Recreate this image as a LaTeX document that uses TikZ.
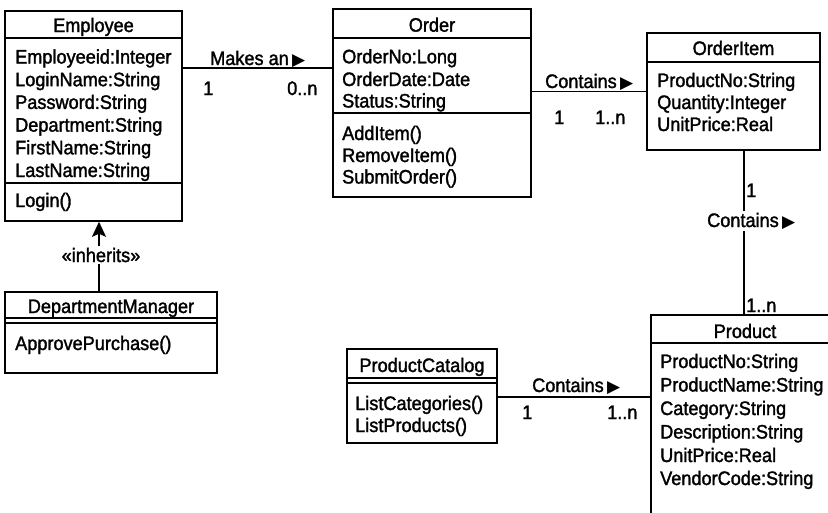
\documentclass[tikz,border=0pt]{standalone}
\usepackage{fontspec}
\setmainfont[FakeStretch=0.93,FakeBold=1.6]{Liberation Sans}
\newfontfamily\symfont{DejaVu Sans}
\usetikzlibrary{arrows.meta}
\newcommand{\tri}{\,{\symfont\fontsize{17}{17}\selectfont ▶}}
\tikzset{
  umlbox/.style={draw, line width=1.6pt, inner sep=0pt, rectangle},
  sepline/.style={line width=1.6pt},
  conn/.style={line width=1.6pt},
  txt/.style={anchor=base west, inner sep=0pt},
  ttl/.style={anchor=base, inner sep=0pt},
  lbl/.style={anchor=base west, inner sep=0pt},
  wlbl/.style={anchor=base, inner sep=1.5pt, fill=white},
}
\begin{document}
\begin{tikzpicture}[x=1pt,y=-1pt,font=\fontsize{19.5}{23}\selectfont]
\useasboundingbox (0,0) rectangle (828,512);
\clip (0,0) rectangle (828,512);
% ---------- Employee ----------
\node[umlbox, minimum width=177pt, minimum height=210pt] (emp) at (93.5,116) {};
\draw[sepline] (emp.west |- 0,38) -- (emp.east |- 0,38);
\draw[sepline] (emp.west |- 0,183) -- (emp.east |- 0,183);
\node[ttl] (empT) at (93.5,32) {Employee};
\node[txt] (emp1) at (15,63.5) {Employeeid:Integer};
\node[txt] (emp2) at (15,86.2) {LoginName:String};
\node[txt] (emp3) at (15,108.9) {Password:String};
\node[txt] (emp4) at (15,131.6) {Department:String};
\node[txt] (emp5) at (15,154.3) {FirstName:String};
\node[txt] (emp6) at (15,177) {LastName:String};
\node[txt] (emp7) at (15,207) {Login()};
% ---------- Order ----------
\node[umlbox, minimum width=198pt, minimum height=188pt] (ord) at (432,103) {};
\draw[sepline] (ord.west |- 0,38) -- (ord.east |- 0,38);
\draw[sepline] (ord.west |- 0,113) -- (ord.east |- 0,113);
\node[ttl] (ordT) at (432,31.7) {Order};
\node[txt] (ord1) at (342,63.3) {OrderNo:Long};
\node[txt] (ord2) at (342,86) {OrderDate:Date};
\node[txt] (ord3) at (342,107.5) {Status:String};
\node[txt] (ord4) at (342,140) {AddItem()};
\node[txt] (ord5) at (342,162) {RemoveItem()};
\node[txt] (ord6) at (342,183.5) {SubmitOrder()};
% ---------- OrderItem ----------
\node[umlbox, minimum width=173pt, minimum height=117pt] (oi) at (733.5,91.5) {};
\draw[sepline] (oi.west |- 0,62) -- (oi.east |- 0,62);
\node[ttl] (oiT) at (733.5,55) {OrderItem};
\node[txt] (oi1) at (657,87) {ProductNo:String};
\node[txt] (oi2) at (657,109) {Quantity:Integer};
\node[txt] (oi3) at (657,131) {UnitPrice:Real};
% ---------- Product ----------
\node[umlbox, minimum width=249pt, minimum height=285pt] (prd) at (775.5,457.5) {};
\draw[sepline] (prd.west |- 0,343) -- (prd.east |- 0,343);
\node[ttl] (prdT) at (745,338) {Product};
\node[txt] (prd1) at (660,368) {ProductNo:String};
\node[txt] (prd2) at (660,391.5) {ProductName:String};
\node[txt] (prd3) at (660,415) {Category:String};
\node[txt] (prd4) at (660,438.5) {Description:String};
\node[txt] (prd5) at (660,462) {UnitPrice:Real};
\node[txt] (prd6) at (660,485) {VendorCode:String};
% ---------- ProductCatalog ----------
\node[umlbox, minimum width=150pt, minimum height=94pt] (pc) at (422,396) {};
\draw[sepline] (pc.west |- 0,378) -- (pc.east |- 0,378);
\draw[sepline] (pc.west |- 0,383) -- (pc.east |- 0,383);
\node[ttl] (pcT) at (422,372) {ProductCatalog};
\node[txt] (pc1) at (355,410) {ListCategories()};
\node[txt] (pc2) at (355,432) {ListProducts()};
% ---------- DepartmentManager ----------
\node[umlbox, minimum width=212pt, minimum height=81pt] (dm) at (111,332.5) {};
\draw[sepline] (dm.west |- 0,318) -- (dm.east |- 0,318);
\draw[sepline] (dm.west |- 0,323) -- (dm.east |- 0,323);
\node[ttl] (dmT) at (111,313) {DepartmentManager};
\node[txt] (dm1) at (15,350) {ApprovePurchase()};
% ---------- connectors ----------
\coordinate (c1) at (0,68);
\draw[conn] (emp.east |- c1) -- (ord.west |- c1);
\node[lbl] (l1) at (210,65) {Makes an\tri};
\node[lbl] (l1a) at (203,95) {1};
\node[lbl] (l1b) at (287,95) {0..n};

\coordinate (c2) at (0,91.5);
\draw[conn] (ord.east |- c2) -- (oi.west |- c2);
\node[lbl] (l2) at (545,88) {Contains\tri};
\node[lbl] (l2a) at (554,124) {1};
\node[lbl] (l2b) at (595,124) {1..n};

\coordinate (c3) at (744,0);
\draw[conn] (oi.south -| c3) -- (prd.north -| c3);
\node[wlbl] (l3) at (743,227) {\phantom{\tri}Contains\tri};
\node[lbl] (l3a) at (746,197) {1};
\node[lbl] (l3b) at (746,312) {1..n};

\coordinate (c4) at (0,397);
\draw[conn] (pc.east |- c4) -- (prd.west |- c4);
\node[lbl] (l4) at (532,392) {Contains\tri};
\node[lbl] (l4a) at (522,419) {1};
\node[lbl] (l4b) at (607,419) {1..n};

\coordinate (c5) at (99,0);
\draw[conn, -{Stealth[length=15pt,width=14pt,inset=3pt]}] (dm.north -| c5) -- (emp.south -| c5);
\node[wlbl, inner xsep=0pt] (l5) at (101,262) {«inherits»};
\end{tikzpicture}
\end{document}
